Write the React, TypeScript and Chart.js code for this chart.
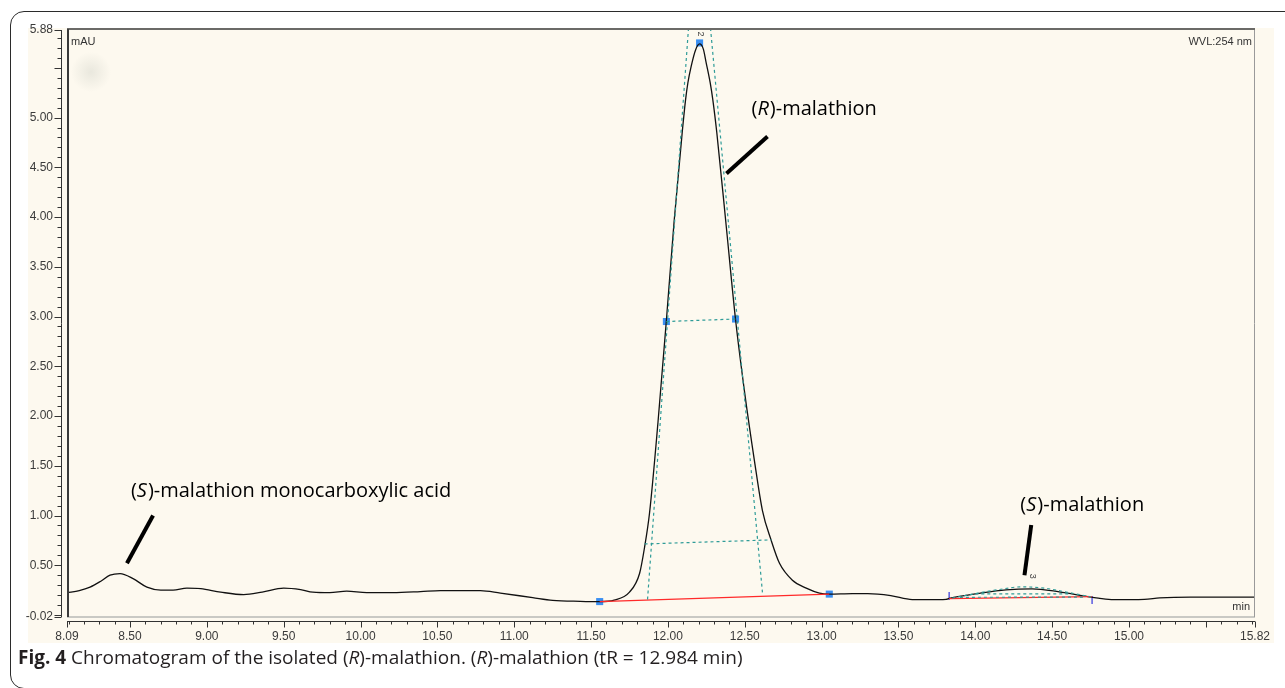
import React, { useEffect, useRef } from "react";
import { Chart, registerables } from "chart.js";

Chart.register(...registerables);

// ---- axis ranges and tick labels ----
const xMin = 8.09;
const xMax = 15.82;
const yMin = -0.02;
const yMax = 5.88;
const xTickLabels = ["8.09", "8.50", "9.00", "9.50", "10.00", "10.50", "11.00", "11.50", "12.00", "12.50", "13.00", "13.50", "14.00", "14.50", "15.00", "15.82"];
const yTickLabels = ["-0.02", "0.50", "1.00", "1.50", "2.00", "2.50", "3.00", "3.50", "4.00", "4.50", "5.00", "5.88"];
const minorStep = 0.1;
const majorStep = 0.5;

// ---- chromatogram trace (min, mAU) ----
const traceTime = [
  8.09, 8.17, 8.24, 8.31, 8.37, 8.435, 8.52, 8.61, 8.7, 8.78,
  8.87, 8.96, 9.09, 9.24, 9.36, 9.5, 9.61, 9.69, 9.8, 9.91,
  10.04, 10.21, 10.39, 10.52, 10.65, 10.78, 10.91, 11.12, 11.25, 11.43,
  11.556, 11.65, 11.75, 11.816, 11.848, 11.88, 11.935, 11.99, 12.04, 12.093,
  12.115, 12.13, 12.152, 12.18, 12.206, 12.23, 12.249, 12.275, 12.292, 12.318,
  12.38, 12.44, 12.498, 12.563, 12.615, 12.672, 12.726, 12.81, 12.9, 12.986,
  13.05, 13.2, 13.3, 13.45, 13.59, 13.7, 13.81, 13.83, 14.026, 14.2,
  14.37, 14.546, 14.74, 14.8, 14.9, 15.1, 15.2, 15.4, 15.82,
];
const traceSignal = [
  0.225, 0.245, 0.28, 0.34, 0.4, 0.416, 0.366, 0.28, 0.25, 0.25,
  0.27, 0.265, 0.23, 0.205, 0.23, 0.27, 0.255, 0.23, 0.225, 0.24,
  0.225, 0.225, 0.235, 0.245, 0.245, 0.245, 0.22, 0.175, 0.148, 0.138,
  0.135, 0.15, 0.23, 0.42, 0.68, 1.02, 1.93, 2.96, 3.95, 4.85,
  5.18, 5.35, 5.52, 5.68, 5.74, 5.69, 5.55, 5.35, 5.18, 4.85,
  3.9, 2.97, 2.25, 1.55, 1.05, 0.75, 0.52, 0.35, 0.27, 0.22,
  0.21, 0.215, 0.215, 0.195, 0.155, 0.155, 0.158, 0.167, 0.218, 0.253,
  0.263, 0.233, 0.183, 0.17, 0.155, 0.158, 0.172, 0.18, 0.18,
];

// ---- integration marks ----
const peakMarkTime = [11.556, 11.99, 12.206, 12.44, 13.05];
const peakMarkSignal = [0.135, 2.95, 5.75, 2.975, 0.21];
const baselineMainTime = [11.556, 13.05];
const baselineMainSignal = [0.135, 0.21];
const baselineSTime = [13.83, 14.76];
const baselineSSignal = [0.164, 0.184];
const envLeftTime = [12.134, 11.867];
const envLeftSignal = [5.9, 0.147];
const envRightTime = [12.277, 12.615];
const envRightSignal = [5.9, 0.228];
const halfWidthTime = [11.99, 12.44];
const halfWidthSignal = [2.95, 2.975];
const tenthWidthTime = [11.848, 12.674];
const tenthWidthSignal = [0.714, 0.755];
const sFitTime = [13.85, 14.0, 14.15, 14.3, 14.45, 14.6, 14.76];
const sFitSignal = [0.17, 0.215, 0.255, 0.283, 0.27, 0.228, 0.18];
const sWidthTime = [14.0, 14.62];
const sWidthSignal = [0.212, 0.212];
const sWidth2Time = [13.9, 14.72];
const sWidth2Signal = [0.178, 0.18];
const sTickTime = [13.83, 14.76];
const sTickSignal = [0.19, 0.15];

// ---- peak numbers ----
const peakNumberText = ["2", "3"];
const peakNumberTime = [12.21, 14.37];
const peakNumberSignal = [5.84, 0.39];

// ---- callouts ----
const calloutPrefix = ["(", "(", "("];
const calloutItalic = ["S", "R", "S"];
const calloutSuffix = [")-malathion monocarboxylic acid", ")-malathion", ")-malathion"];
const calloutTextTime = [8.506, 12.544, 14.293];
const calloutTextSignal = [1.24, 5.08, 1.107];
const calloutLineFrom = [[8.65, 1.0], [12.648, 4.81], [14.364, 0.905]];
const calloutLineTo = [[8.48, 0.52], [12.381, 4.437], [14.32, 0.4]];

const zip = (t: number[], v: number[]) => t.map((x, i) => ({ x, y: v[i] }));

const TEAL = "#2f9c98";

const decor = {
  id: "chromDecor",
  beforeDraw(chart: any) {
    const { ctx, chartArea: a } = chart;
    ctx.save();
    ctx.fillStyle = "#fdf9ef";
    ctx.fillRect(a.left - 39, a.top - 2, a.right - a.left + 58, a.bottom - a.top + 28);
    const cx = a.left + 24, cy = a.top + 42;
    const g = ctx.createRadialGradient(cx, cy, 0, cx, cy, 20);
    g.addColorStop(0, "rgba(220,220,210,0.6)");
    g.addColorStop(1, "rgba(220,220,210,0)");
    ctx.fillStyle = g;
    ctx.fillRect(cx - 22, cy - 22, 44, 44);
    ctx.restore();
  },
  afterDraw(chart: any) {
    const { ctx, chartArea: a, scales } = chart;
    const xs = scales.x, ys = scales.y;
    ctx.save();
    // plot frame
    ctx.strokeStyle = "#c9c9c4";
    ctx.lineWidth = 2;
    ctx.beginPath(); ctx.moveTo(a.left, a.bottom); ctx.lineTo(a.right, a.bottom); ctx.stroke();
    ctx.strokeStyle = "#9a9a9a";
    ctx.lineWidth = 1;
    ctx.beginPath(); ctx.moveTo(a.right - 0.5, a.top); ctx.lineTo(a.right - 0.5, a.bottom); ctx.stroke();
    ctx.strokeStyle = "#3a3a3a";
    ctx.lineWidth = 1.5;
    ctx.beginPath(); ctx.moveTo(a.left, a.top - 1); ctx.lineTo(a.right, a.top - 1); ctx.stroke();
    ctx.lineWidth = 2;
    ctx.beginPath(); ctx.moveTo(a.left + 1, a.top - 1); ctx.lineTo(a.left + 1, a.bottom); ctx.stroke();

    // axes with major/minor ticks
    ctx.strokeStyle = "#333";
    ctx.lineWidth = 1;
    const yAxisX = a.left - 5.5;
    ctx.beginPath(); ctx.moveTo(yAxisX, a.top); ctx.lineTo(yAxisX, a.bottom); ctx.stroke();
    const xAxisY = a.bottom + 4.5;
    ctx.beginPath(); ctx.moveTo(a.left, xAxisY); ctx.lineTo(a.right, xAxisY); ctx.stroke();
    const yTicks: [number, boolean][] = [[yMin, true], [yMax, true]];
    for (let k = Math.ceil(yMin / minorStep); k * minorStep <= yMax + 1e-9; k++) {
      const v = k * minorStep;
      yTicks.push([v, Math.abs(v / majorStep - Math.round(v / majorStep)) < 1e-6]);
    }
    yTicks.forEach(([v, major]) => {
      const py = Math.round(ys.getPixelForValue(v)) + 0.5;
      ctx.beginPath(); ctx.moveTo(yAxisX, py); ctx.lineTo(yAxisX - (major ? 7 : 4), py); ctx.stroke();
    });
    const xTicks: [number, boolean][] = [[xMin, true], [xMax, true]];
    for (let k = Math.ceil(xMin / minorStep); k * minorStep <= xMax + 1e-9; k++) {
      const v = k * minorStep;
      xTicks.push([v, Math.abs(v / majorStep - Math.round(v / majorStep)) < 1e-6]);
    }
    xTicks.forEach(([v, major]) => {
      const px = Math.round(xs.getPixelForValue(v)) + 0.5;
      ctx.beginPath(); ctx.moveTo(px, xAxisY); ctx.lineTo(px, xAxisY + (major ? 6 : 3)); ctx.stroke();
    });

    // corner texts
    ctx.fillStyle = "#333";
    ctx.font = '11px "Liberation Sans", Arial, sans-serif';
    ctx.textBaseline = "middle";
    ctx.textAlign = "left";
    ctx.fillText("mAU", a.left + 4, a.top + 12);
    ctx.textAlign = "right";
    ctx.fillText("WVL:254 nm", a.right - 3, a.top + 12);
    ctx.fillText("min", a.right - 5, a.bottom - 10);

    // peak numbers (rotated)
    ctx.fillStyle = "#444";
    ctx.font = '9px "Liberation Sans", Arial, sans-serif';
    ctx.textAlign = "center";
    peakNumberText.forEach((s, i) => {
      const px = xs.getPixelForValue(peakNumberTime[i]);
      const py = ys.getPixelForValue(peakNumberSignal[i]);
      ctx.save();
      ctx.translate(px, py);
      ctx.rotate(Math.PI / 2);
      ctx.fillText(s, 0, 0);
      ctx.restore();
    });

    // callout lines
    ctx.strokeStyle = "#000";
    ctx.lineWidth = 4;
    ctx.lineCap = "butt";
    calloutLineFrom.forEach((f, i) => {
      const t = calloutLineTo[i];
      ctx.beginPath();
      ctx.moveTo(xs.getPixelForValue(f[0]), ys.getPixelForValue(f[1]));
      ctx.lineTo(xs.getPixelForValue(t[0]), ys.getPixelForValue(t[1]));
      ctx.stroke();
    });

    // callout texts
    ctx.fillStyle = "#000";
    ctx.textAlign = "left";
    ctx.textBaseline = "middle";
    const normal = '20px "Open Sans", sans-serif';
    const ital = 'italic 20px "Open Sans", sans-serif';
    calloutPrefix.forEach((p, i) => {
      let px = xs.getPixelForValue(calloutTextTime[i]);
      const py = ys.getPixelForValue(calloutTextSignal[i]);
      ctx.font = normal; ctx.fillText(p, px, py); px += ctx.measureText(p).width;
      ctx.font = ital; ctx.fillText(calloutItalic[i], px, py); px += ctx.measureText(calloutItalic[i]).width + 1;
      ctx.font = normal; ctx.fillText(calloutSuffix[i], px, py);
    });
    ctx.restore();
  },
};

export default function App() {
  const ref = useRef<HTMLCanvasElement | null>(null);
  useEffect(() => {
    if (!ref.current) return;
    const dashed = (data: any[]) => ({
      data, showLine: true, borderColor: TEAL, borderWidth: 1.2, borderDash: [3, 3],
      pointRadius: 0, fill: false,
    });
    const chart = new Chart(ref.current, {
      type: "scatter",
      data: {
        datasets: [
          dashed(zip(envLeftTime, envLeftSignal)),
          dashed(zip(envRightTime, envRightSignal)),
          dashed(zip(halfWidthTime, halfWidthSignal)),
          dashed(zip(tenthWidthTime, tenthWidthSignal)),
          { ...dashed(zip(sFitTime, sFitSignal)), cubicInterpolationMode: "monotone" } as any,
          dashed(zip(sWidthTime, sWidthSignal)),
          dashed(zip(sWidth2Time, sWidth2Signal)),
          {
            data: zip(baselineMainTime, baselineMainSignal), showLine: true, borderColor: "#ff2a2a",
            borderWidth: 1.3, pointRadius: 0,
          },
          {
            data: zip(baselineSTime, baselineSSignal), showLine: true, borderColor: "#ff2a2a",
            borderWidth: 1.3, pointRadius: 0,
          },
          {
            data: zip(traceTime, traceSignal), showLine: true, borderColor: "#111",
            borderWidth: 1.3, pointRadius: 0, cubicInterpolationMode: "monotone",
          } as any,
          {
            data: zip(peakMarkTime, peakMarkSignal), showLine: false, pointStyle: "rect",
            pointRadius: 5, backgroundColor: "#3a8ff2", borderColor: "#3a8ff2", borderWidth: 0,
          },
          {
            data: zip(sTickTime, sTickSignal), showLine: false, pointStyle: "line", rotation: 90,
            pointRadius: 4, borderColor: "#5b5be0", borderWidth: 1.5,
          },
        ],
      },
      options: {
        responsive: false,
        animation: false,
        events: [],
        layout: { padding: { top: 30, right: 30, left: 0, bottom: 0 } },
        plugins: { legend: { display: false }, tooltip: { enabled: false } },
        scales: {
          x: {
            type: "linear", min: xMin, max: xMax,
            grid: { display: false, drawTicks: false }, border: { display: false },
            afterBuildTicks: (s: any) => { s.ticks = xTickLabels.map((l) => ({ value: parseFloat(l) })); },
            afterFit: (s: any) => { s.height = 71; },
            ticks: {
              autoSkip: false, maxRotation: 0, padding: 12, color: "#3a3a3a",
              font: { family: '"Liberation Sans", Arial, sans-serif', size: 12 },
              callback: (_v: any, i: number) => xTickLabels[i],
            },
          },
          y: {
            type: "linear", min: yMin, max: yMax,
            grid: { display: false, drawTicks: false }, border: { display: false },
            afterBuildTicks: (s: any) => { s.ticks = yTickLabels.map((l) => ({ value: parseFloat(l) })); },
            afterFit: (s: any) => { s.width = 67; },
            ticks: {
              autoSkip: false, padding: 14, color: "#3a3a3a",
              font: { family: '"Liberation Sans", Arial, sans-serif', size: 12 },
              callback: (_v: any, i: number) => yTickLabels[i],
            },
          },
        },
      },
      plugins: [decor],
    });
    return () => chart.destroy();
  }, []);

  return (
    <div style={{ position: "absolute", left: 0, top: 0, width: 1285, height: 688, overflow: "hidden", background: "#fff" }}>
      <div style={{
        position: "absolute", left: 10, top: 11, width: 1320, height: 678, boxSizing: "border-box",
        border: "1.5px solid #2b2b2b", borderRadius: 14,
      }} />
      <canvas ref={ref} width={1285} height={688} style={{ position: "absolute", left: 0, top: 0, display: "block" }} />
      <div style={{
        position: "absolute", left: 18, top: 644, lineHeight: "24px", whiteSpace: "nowrap",
        font: '19px "Open Sans", sans-serif', color: "#231f20",
      }}>
        <b>Fig. 4</b> Chromatogram of the isolated (<i>R</i>)-malathion. (<i>R</i>)-malathion (tR = 12.984 min)
      </div>
    </div>
  );
}
